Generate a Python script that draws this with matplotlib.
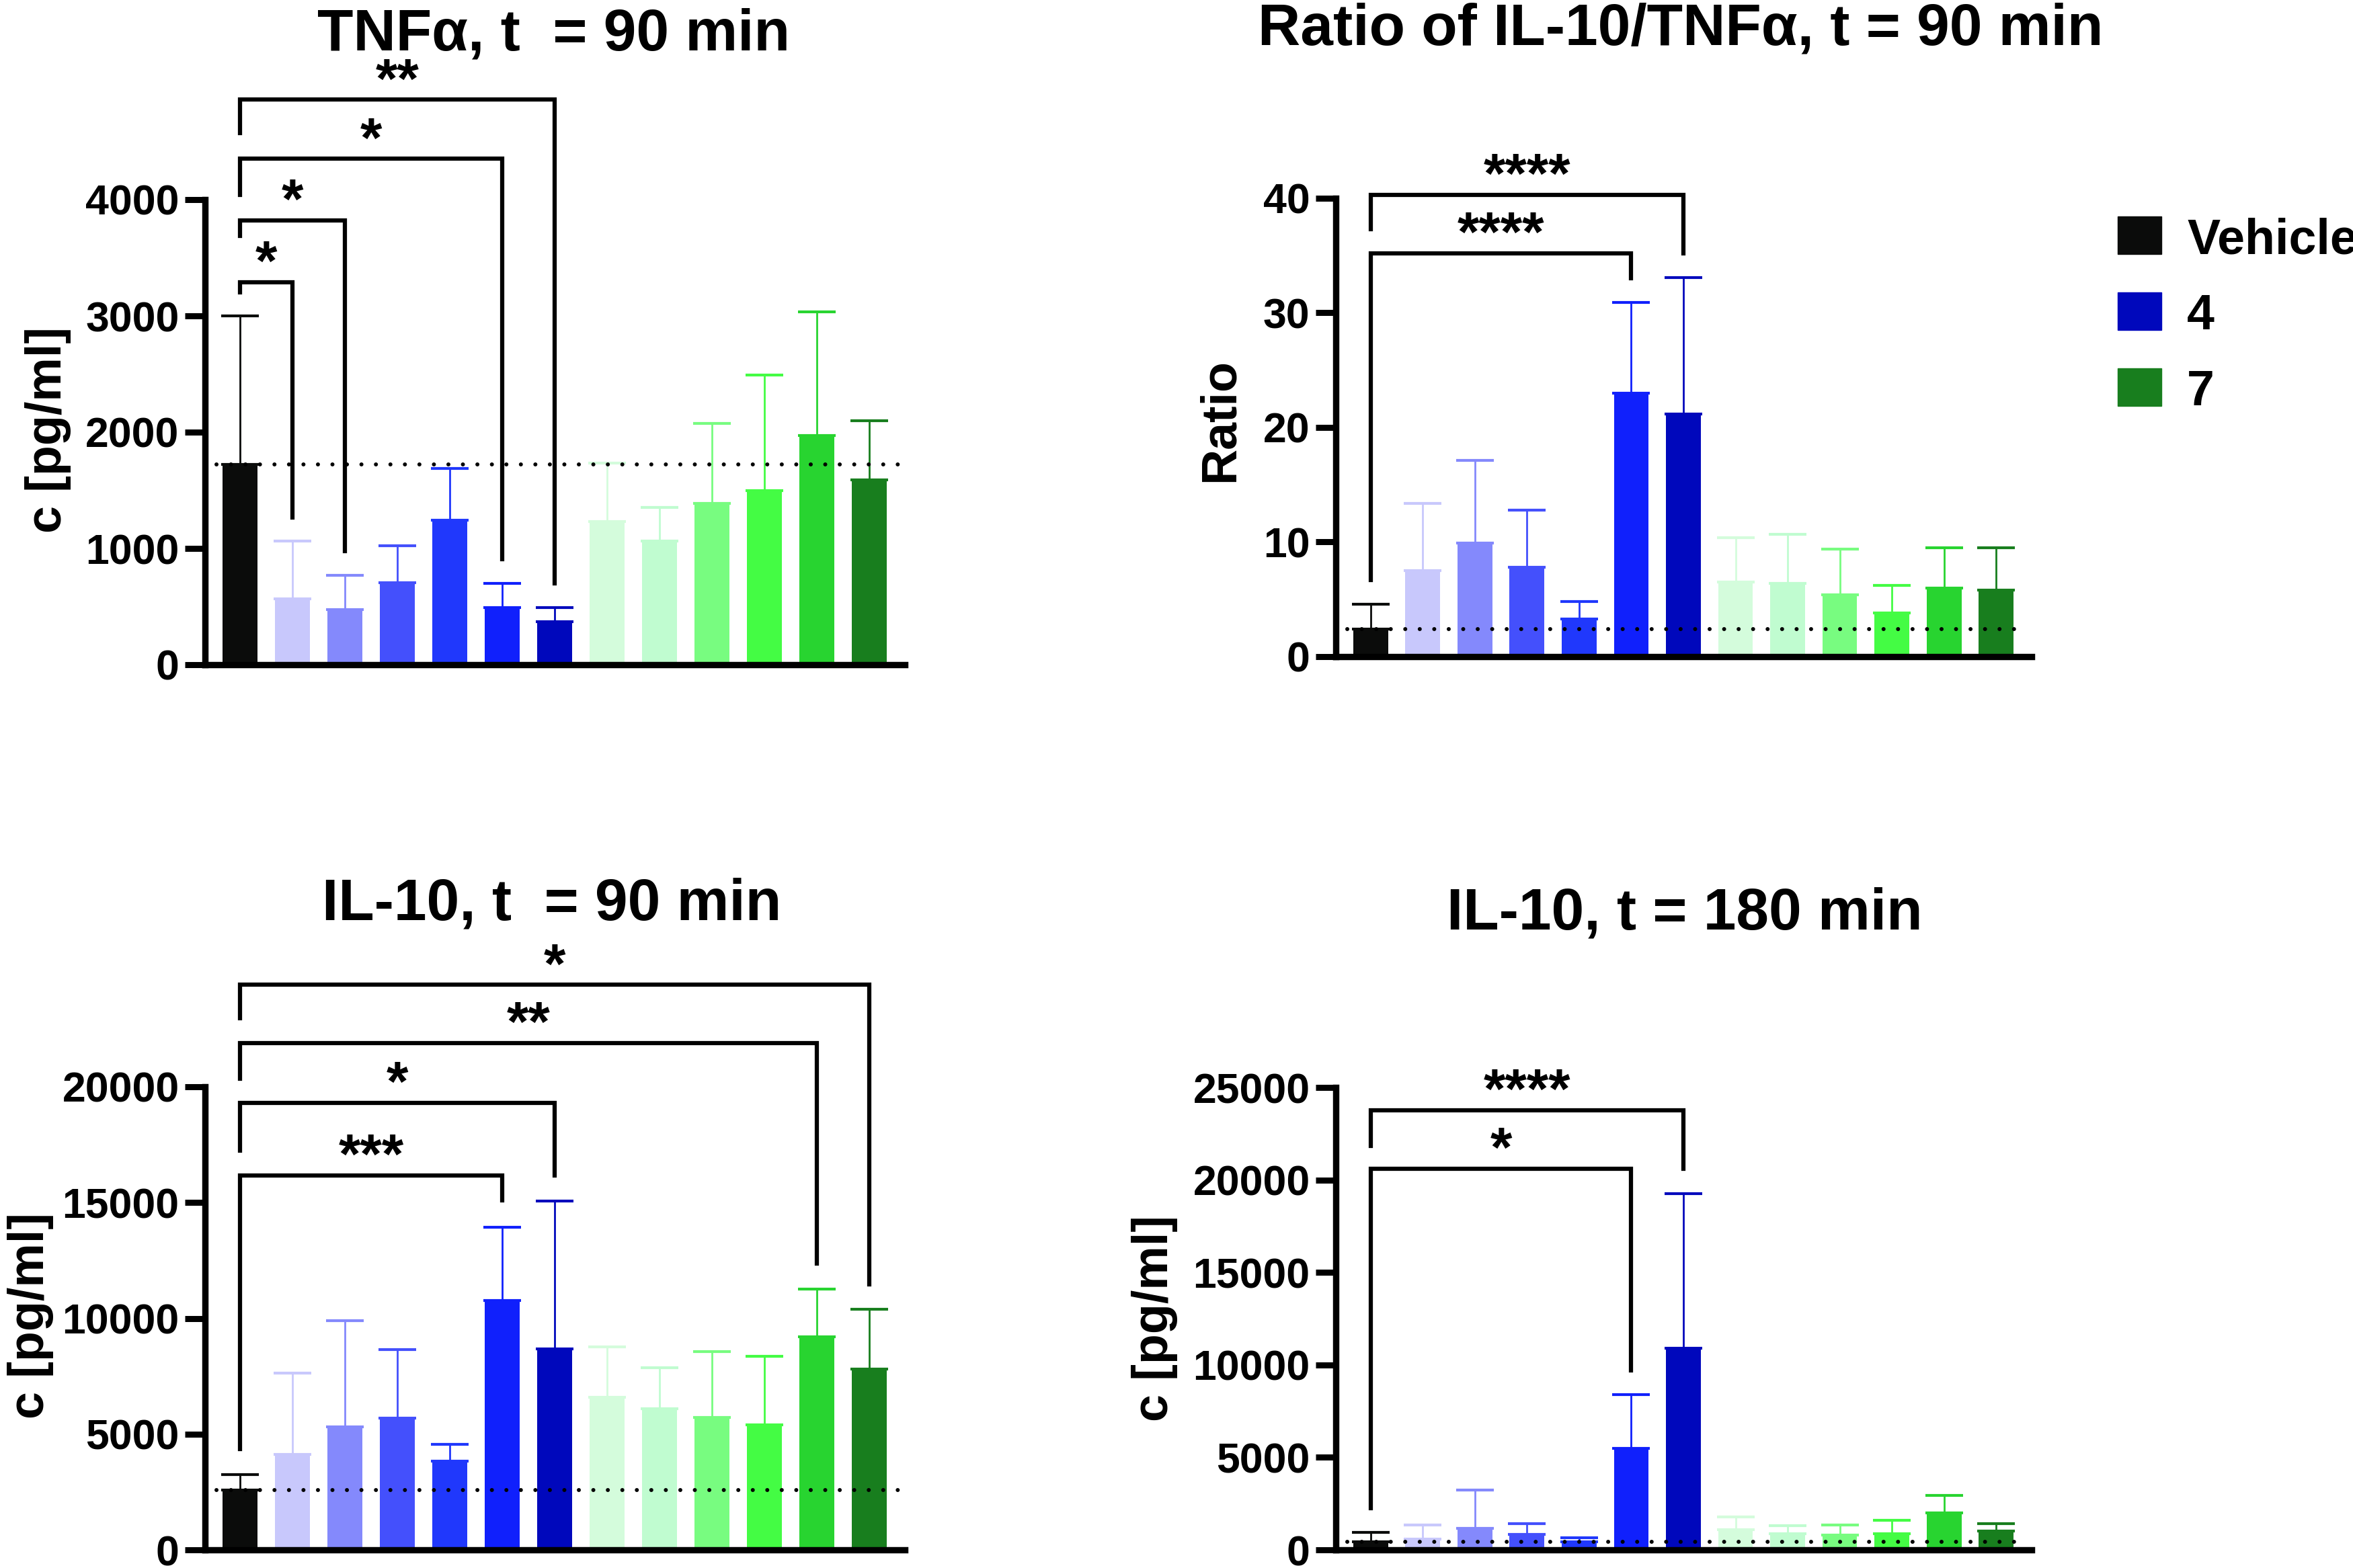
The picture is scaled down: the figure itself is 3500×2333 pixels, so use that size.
import matplotlib
matplotlib.use('Agg')
import matplotlib.pyplot as plt
import numpy as np
from matplotlib.patches import Rectangle

plt.rcParams['font.family'] = ['Liberation Sans', 'DejaVu Sans']
plt.rcParams['font.weight'] = 'bold'

# bar colours, one per group (vehicle, 6 x compound 4, 6 x compound 7)
COLORS = ['#0b0c0b', '#c8c8fc', '#8489fc', '#4450fc', '#2038fc', '#1020fc', '#0008bc',
          '#d4fcdc', '#c0fcd0', '#78fc80', '#44fc44', '#28d430', '#187e1e']

# TNFa, t = 90 min  (mean, mean + error)
tnf_mean = [1725, 568, 476, 704, 1245, 490, 370, 1230, 1065, 1385, 1495, 1970, 1590]
tnf_top = [3000, 1065, 770, 1025, 1685, 700, 492, 1735, 1355, 2075, 2490, 3035, 2100]
tnf_sig = [(1, 3290, 3200, 1265, '*'), (2, 3820, 3690, 975, '*'),
           (5, 4350, 4040, 905, '*'), (6, 4860, 4570, 700, '**')]

# ratio IL-10/TNFa, t = 90 min
ratio_mean = [2.4, 7.5, 9.9, 7.8, 3.3, 23.0, 21.2, 6.5, 6.4, 5.4, 3.8, 6.0, 5.8]
ratio_top = [4.6, 13.4, 17.1, 12.8, 4.8, 30.9, 33.1, 10.4, 10.7, 9.4, 6.2, 9.5, 9.5]
ratio_sig = [(5, 35.2, 6.7, 33.0, '****'), (6, 40.3, 37.3, 35.2, '****')]

# IL-10, t = 90 min
il90_mean = [2585, 4120, 5300, 5680, 3820, 10770, 8680, 6600, 6110, 5720, 5390, 9190, 7820]
il90_top = [3260, 7630, 9900, 8650, 4560, 13940, 15060, 8760, 7870, 8560, 8360, 11260, 10400]
il90_sig = [(5, 16180, 4350, 15100, '***'), (6, 19300, 17240, 16180, '*'),
            (11, 21900, 20340, 12360, '**'), (12, 24400, 22950, 11470, '*')]

# IL-10, t = 180 min
il180_mean = [454, 597, 1170, 836, 454, 5469, 10913, 1098, 860, 812, 860, 1982, 1027]
il180_top = [931, 1361, 3224, 1433, 645, 8406, 19271, 1767, 1313, 1361, 1600, 2961, 1409]
il180_sig = [(5, 20600, 2270, 9720, '*'), (6, 23760, 21850, 20600, '****')]

legend_labels = ['Vehicle', '4', '7']
legend_colors = [COLORS[0], COLORS[6], COLORS[12]]

W, H = 3500, 2333
fig = plt.figure(figsize=(35, 23.33), dpi=100)


def make_ax(left, right, y0, ytick_px, ytick_val, top):
    ax = fig.add_axes([left / W, 1 - y0 / H, (right - left) / W, (y0 - top) / H])
    ax.set_xlim(-0.667, 12.68)
    ax.set_ylim(0, ytick_val * (y0 - top) / (y0 - ytick_px))
    return ax


def draw_panel(ax, means, tops, ticks, sig):
    x = np.arange(len(means))
    means = np.array(means, dtype=float)
    tops = np.array(tops, dtype=float)
    ax.bar(x, means, width=0.667, color=COLORS, zorder=2)
    for i in x:
        ax.errorbar(i, means[i], yerr=[[0], [tops[i] - means[i]]], fmt='none',
                    ecolor=COLORS[i], elinewidth=2, capsize=20, capthick=3, zorder=2.5)
    ax.plot([-0.45, 12.6], [means[0], means[0]], color='black', lw=4.3,
            linestyle=(0, (0.01, 3.6)), dash_capstyle='round', zorder=3)
    for tgt, y, left_end, right_end, lab in sig:
        ax.plot([0, 0, tgt, tgt], [left_end, y, y, right_end], color='black', lw=4.5,
                clip_on=False, solid_joinstyle='miter', zorder=4)
        ax.annotate(lab, xy=(tgt / 2, y), xytext=(0, 2), textcoords='offset points',
                    ha='center', va='baseline', fontsize=60, weight='bold',
                    annotation_clip=False)
    for s in ['top', 'right']:
        ax.spines[s].set_visible(False)
    for s in ['left', 'bottom']:
        ax.spines[s].set_linewidth(6.8)
        ax.spines[s].set_capstyle('projecting')
    ax.spines['left'].set_bounds(0, ticks[-1])
    ax.set_xticks([])
    ax.set_yticks(ticks)
    ax.set_yticklabels([str(t) for t in ticks])
    ax.tick_params(axis='y', length=21.6, width=6.5, labelsize=45, pad=6)
    ax.set_facecolor('none')


ax1 = make_ax(305, 1346, 989, 297, 4000, 30)
draw_panel(ax1, tnf_mean, tnf_top, [0, 1000, 2000, 3000, 4000], tnf_sig)

ax2 = make_ax(1987, 3022, 977, 295, 40, 30)
draw_panel(ax2, ratio_mean, ratio_top, [0, 10, 20, 30, 40], ratio_sig)

ax3 = make_ax(305, 1346, 2306, 1617, 20000, 1400)
draw_panel(ax3, il90_mean, il90_top, [0, 5000, 10000, 15000, 20000], il90_sig)

ax4 = make_ax(1987, 3022, 2306, 1618, 25000, 1400)
draw_panel(ax4, il180_mean, il180_top, [0, 5000, 10000, 15000, 20000, 25000], il180_sig)

# titles
fig.text(824 / W, 1 - 74 / H, 'TNFα, t  = 90 min', ha='center', va='baseline', fontsize=63, weight='bold')
fig.text(2500 / W, 1 - 67 / H, 'Ratio of IL-10/TNFα, t = 90 min', ha='center', va='baseline', fontsize=63, weight='bold')
fig.text(821 / W, 1 - 1368 / H, 'IL-10, t  = 90 min', ha='center', va='baseline', fontsize=63, weight='bold')
fig.text(2506 / W, 1 - 1382 / H, 'IL-10, t = 180 min', ha='center', va='baseline', fontsize=63, weight='bold')

# y labels
fig.text(72 / W, 1 - 640 / H, 'c [pg/ml]', rotation=90, ha='center', va='center', fontsize=53, weight='bold')
fig.text(1815 / W, 1 - 625 / H, 'Ratio', rotation=90, ha='center', va='center', fontsize=53, weight='bold')
fig.text(45 / W, 1 - 1958 / H, 'c [pg/ml]', rotation=90, ha='center', va='center', fontsize=53, weight='bold')
fig.text(1717 / W, 1 - 1962 / H, 'c [pg/ml]', rotation=90, ha='center', va='center', fontsize=53, weight='bold')

# legend
for k, (lab, col) in enumerate(zip(legend_labels, legend_colors)):
    y_top = 322 + 113 * k
    fig.add_artist(Rectangle((3150 / W, 1 - (y_top + 56) / H), 65 / W, 56 / H,
                             transform=fig.transFigure, color=col))
    fig.text(3253 / W, 1 - (y_top + 55) / H, lab, ha='left', va='baseline', fontsize=53, weight='bold')

fig.savefig('out.png', dpi=100)
